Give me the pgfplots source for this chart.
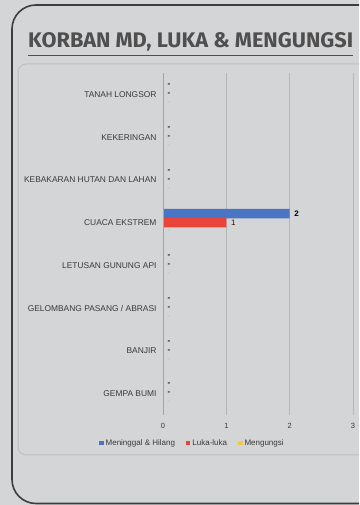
\documentclass[border=0pt]{standalone}
\usepackage{fontspec}
\setmainfont{Liberation Sans}
\newfontfamily\titlefont{Fira Sans}
\usepackage{pgfplots}
\pgfplotsset{compat=1.18}
\definecolor{bg}{HTML}{D4D5D7}
\definecolor{frame}{HTML}{3E3E3E}
\definecolor{titlec}{HTML}{4F4F4F}
\definecolor{panelb}{HTML}{BEBFC1}
\definecolor{gridc}{HTML}{B4B5B7}
\definecolor{axc}{HTML}{A3A4A6}
\definecolor{txt}{HTML}{3A3A3A}
\definecolor{cblue}{HTML}{4A75C4}
\definecolor{cred}{HTML}{E8443A}
\definecolor{cyel}{HTML}{F2C84B}
\begin{document}
\begin{tikzpicture}[x=1pt,y=1pt]
\useasboundingbox (0,0) rectangle (359,505);
\fill[bg] (0,0) rectangle (359,505);
\begin{scope}
\clip (0,0) rectangle (359,505);
\draw[frame, line width=1.6pt, rounded corners=24pt] (12,1.5) rectangle (420,500);
\draw[panelb, line width=1pt, rounded corners=8pt] (18,50) rectangle (400,441);
\end{scope}
\node[anchor=south west, inner sep=0pt, text=titlec] at (28,454)
  {\resizebox{325pt}{15pt}{\titlefont\bfseries KORBAN MD, LUKA \& MENGUNGSI}};
\draw[titlec, line width=1.5pt] (28,449.5) -- (353,449.5);
\begin{axis}[
  at={(163pt,90pt)}, anchor=south west,
  scale only axis, width=190pt, height=342pt,
  xmin=0, xmax=3, ymin=-0.5, ymax=7.5,
  xtick={0,1,2,3},
  ytick={0,...,7},
  yticklabels={GEMPA BUMI, BANJIR, GELOMBANG PASANG / ABRASI, LETUSAN GUNUNG API, CUACA EKSTREM, KEBAKARAN HUTAN DAN LAHAN, KEKERINGAN, TANAH LONGSOR},
  major tick length=0pt,
  axis line style={draw=none},
  xmajorgrids, major grid style={gridc, line width=0.8pt},
  /pgf/number format/assume math mode=true,
  xticklabel style={font=\fontsize{7.5}{9}\selectfont, text=txt, yshift=-5pt},
  yticklabel style={font=\fontsize{8.4}{10}\selectfont, text=txt, xshift=-3pt},
  xbar, bar width=9.5pt,
  legend columns=-1,
  legend style={at={(0.155,-0.082)}, anchor=center, draw=none, fill=none,
    font=\fontsize{8}{9}\selectfont, text=txt,
    /tikz/every even column/.append style={column sep=9pt},
    inner sep=0pt},
  legend image code/.code={\fill[#1, draw=none] (0pt,-2.2pt) rectangle (4.4pt,2.2pt);},
  nodes near coords, nodes near coords align={horizontal},
  point meta=explicit symbolic,
  every node near coord/.append style={font=\bfseries\fontsize{8}{8}\selectfont, text=black!85, anchor=west, inner sep=2.5pt, xshift=2pt},
]
\addplot[fill=cblue, draw=none, bar shift=9pt,
  every node near coord/.append style={text=black}]
  table[x=x, y=y, meta=l] {
x y l
0 0 -
0 1 -
0 2 -
0 3 -
2 4 2
0 5 -
0 6 -
0 7 -
};
\addplot[fill=cred, draw=none, bar shift=0pt,
  every node near coord/.append style={text=black!75!red}]
  table[x=x, y=y, meta=l] {
x y l
0 0 -
0 1 -
0 2 -
0 3 -
1 4 \mdseries1
0 5 -
0 6 -
0 7 -
};
\addplot[fill=cyel, draw=none, bar shift=-9pt,
  every node near coord/.append style={text=gray!55, font=\mdseries\fontsize{7.5}{8}\selectfont}]
  table[x=x, y=y, meta=l] {
x y l
0 0 -
0 1 -
0 2 -
0 3 -
0 4 -
0 5 -
0 6 -
0 7 -
};
\legend{Meninggal \& Hilang, Luka-luka, Mengungsi}
\draw[axc, line width=1pt] (rel axis cs:0,0) -- (rel axis cs:0,1);
\draw[gridc, line width=0.8pt] (rel axis cs:0,0) -- (rel axis cs:1.05,0);
\end{axis}
\end{tikzpicture}
\end{document}
